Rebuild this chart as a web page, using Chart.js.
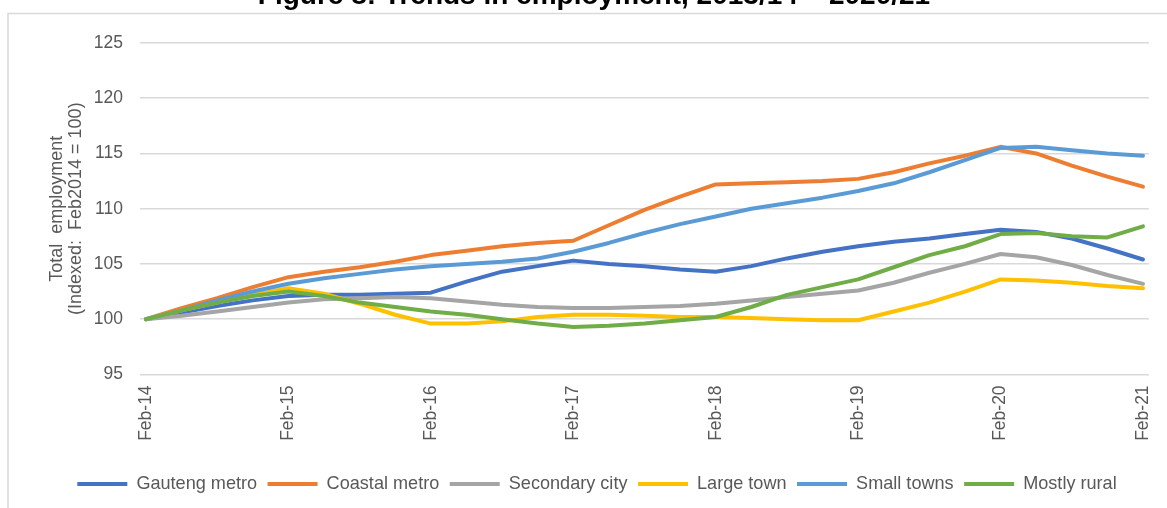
<!DOCTYPE html>
<html>
<head>
<meta charset="utf-8">
<script src="https://cdn.jsdelivr.net/npm/chart.js@4.4.0/dist/chart.umd.min.js"></script>
<style>
  html, body { margin: 0; padding: 0; background: #fff; overflow: hidden; }
  #wrap { position: relative; width: 1167px; height: 508px; }
  #title {
    position: absolute; left: 0; top: -21px; width: 1188px;
    text-align: center; white-space: nowrap; z-index: 2;
    font: bold 28px "Liberation Sans", Arial, sans-serif; line-height: 32px; color: #000;
  }
  canvas { position: absolute; left: 0; top: 0; }
</style>
</head>
<body>
<div id="wrap">
  <div id="title">Figure 8: Trends in employment, 2013/14 – 2020/21</div>
  <canvas id="employmentChart" width="1167" height="508"></canvas>
</div>
<script>
// Quarterly readings, Feb-14 to Feb-21 (index, Feb2014 = 100)
const periods = ['Feb-14', 'May-14', 'Aug-14', 'Nov-14', 'Feb-15', 'May-15', 'Aug-15', 'Nov-15',
  'Feb-16', 'May-16', 'Aug-16', 'Nov-16', 'Feb-17', 'May-17', 'Aug-17', 'Nov-17',
  'Feb-18', 'May-18', 'Aug-18', 'Nov-18', 'Feb-19', 'May-19', 'Aug-19', 'Nov-19',
  'Feb-20', 'May-20', 'Aug-20', 'Nov-20', 'Feb-21'];
const tickLabels = ['Feb-14', 'Feb-15', 'Feb-16', 'Feb-17', 'Feb-18', 'Feb-19', 'Feb-20', 'Feb-21'];
const yTicks = [95, 100, 105, 110, 115, 120, 125];

const gautengMetro = [100.0, 100.6, 101.2, 101.7, 102.1, 102.2, 102.2, 102.3, 102.4, 103.4, 104.3, 104.8, 105.3, 105.0, 104.8, 104.5,
  104.3, 104.8, 105.5, 106.1, 106.6, 107.0, 107.3, 107.7, 108.1, 107.9, 107.3, 106.4, 105.4];
const coastalMetro = [100.0, 101.0, 101.9, 102.9, 103.8, 104.3, 104.7, 105.2, 105.8, 106.2, 106.6, 106.9, 107.1, 108.5, 109.9, 111.1,
  112.2, 112.3, 112.4, 112.5, 112.7, 113.3, 114.1, 114.8, 115.6, 115.0, 113.9, 112.9, 112.0];
const secondaryCity = [100.0, 100.3, 100.7, 101.1, 101.5, 101.8, 101.9, 102.0, 101.9, 101.6, 101.3, 101.1, 101.0, 101.0, 101.1, 101.2,
  101.4, 101.7, 102.0, 102.3, 102.6, 103.3, 104.2, 105.0, 105.9, 105.6, 104.9, 104.0, 103.2];
const largeTown = [100.0, 100.8, 101.5, 102.2, 102.8, 102.3, 101.4, 100.4, 99.6, 99.6, 99.8, 100.2, 100.4, 100.4, 100.3, 100.2,
  100.2, 100.1, 100.0, 99.9, 99.9, 100.7, 101.5, 102.5, 103.6, 103.5, 103.3, 103.0, 102.8];
const smallTowns = [100.0, 100.8, 101.7, 102.5, 103.2, 103.7, 104.1, 104.5, 104.8, 105.0, 105.2, 105.5, 106.1, 106.9, 107.8, 108.6,
  109.3, 110.0, 110.5, 111.0, 111.6, 112.3, 113.3, 114.4, 115.5, 115.6, 115.3, 115.0, 114.8];
const mostlyRural = [100.0, 100.8, 101.5, 102.1, 102.5, 102.1, 101.5, 101.1, 100.7, 100.4, 100.0, 99.6, 99.3, 99.4, 99.6, 99.9,
  100.2, 101.1, 102.2, 102.9, 103.6, 104.7, 105.8, 106.6, 107.7, 107.8, 107.5, 107.4, 108.4];

const seriesNames = ['Gauteng metro', 'Coastal metro', 'Secondary city', 'Large town', 'Small towns', 'Mostly rural'];
const seriesValues = [gautengMetro, coastalMetro, secondaryCity, largeTown, smallTowns, mostlyRural];
const seriesColors = ['#4472C4', '#ED7D31', '#A5A5A5', '#FFC000', '#5B9BD5', '#70AD47'];

// months since Feb-14 for each quarterly reading
const monthIndex = periods.map((p, i) => i * 3);

const fontFamily = '"Liberation Sans", Arial, sans-serif';
const textGrey = '#595959';

// light grey chart-area frame, like the spreadsheet original
const chartFrame = {
  id: 'chartFrame',
  beforeDraw(chart) {
    const ctx = chart.ctx;
    ctx.save();
    ctx.fillStyle = '#fff';
    ctx.fillRect(0, 0, chart.width, chart.height);
    ctx.strokeStyle = '#d9d9d9';
    ctx.lineWidth = 1.5;
    ctx.strokeRect(8, 13.5, chart.width + 40, chart.height + 40);
    ctx.restore();
  }
};

const datasets = seriesNames.map((name, i) => ({
  label: name,
  data: seriesValues[i].map((v, j) => ({ x: monthIndex[j], y: v })),
  borderColor: seriesColors[i],
  backgroundColor: seriesColors[i],
  borderWidth: 4,
  borderCapStyle: 'round',
  borderJoinStyle: 'round',
  pointRadius: 0,
  tension: 0,
  fill: false,
  order: seriesNames.length - i // later series drawn on top
}));

const ctx = document.getElementById('employmentChart').getContext('2d');
new Chart(ctx, {
  type: 'line',
  data: { datasets },
  options: {
    responsive: false,
    animation: false,
    layout: { padding: { left: 29, right: 2, top: 43, bottom: 5 } },
    scales: {
      x: {
        type: 'linear',
        min: -0.5,
        max: (periods.length - 1) * 3 + 0.5,
        grid: { display: false },
        border: { display: false },
        afterFit: s => { s.height = 90; },
        ticks: {
          stepSize: 12,
          includeBounds: false,
          autoSkip: false,
          minRotation: 90,
          maxRotation: 90,
          padding: 3,
          color: textGrey,
          font: { family: fontFamily, size: 17.5 },
          callback: v => tickLabels[v / 12]
        }
      },
      y: {
        min: yTicks[0],
        max: yTicks[yTicks.length - 1],
        afterFit: s => { s.width = 111; },
        grid: { color: '#d9d9d9', lineWidth: 1.5, drawTicks: false },
        border: { display: false },
        ticks: {
          stepSize: 5,
          padding: 17,
          color: textGrey,
          font: { family: fontFamily, size: 17.5 }
        },
        title: {
          display: true,
          text: ['Total  employment', '(Indexed:  Feb2014 = 100)'],
          color: textGrey,
          padding: { top: 18.5, bottom: 0 },
          font: { family: fontFamily, size: 18, lineHeight: 1.05 }
        }
      }
    },
    plugins: {
      legend: {
        position: 'bottom',
        labels: {
          usePointStyle: true,
          pointStyle: 'line',
          pointStyleWidth: 50,
          padding: 10.5,
          color: textGrey,
          font: { family: fontFamily, size: 18.1 },
          sort: (a, b) => a.datasetIndex - b.datasetIndex
        }
      },
      tooltip: { enabled: false }
    }
  },
  plugins: [chartFrame]
});
</script>
</body>
</html>
